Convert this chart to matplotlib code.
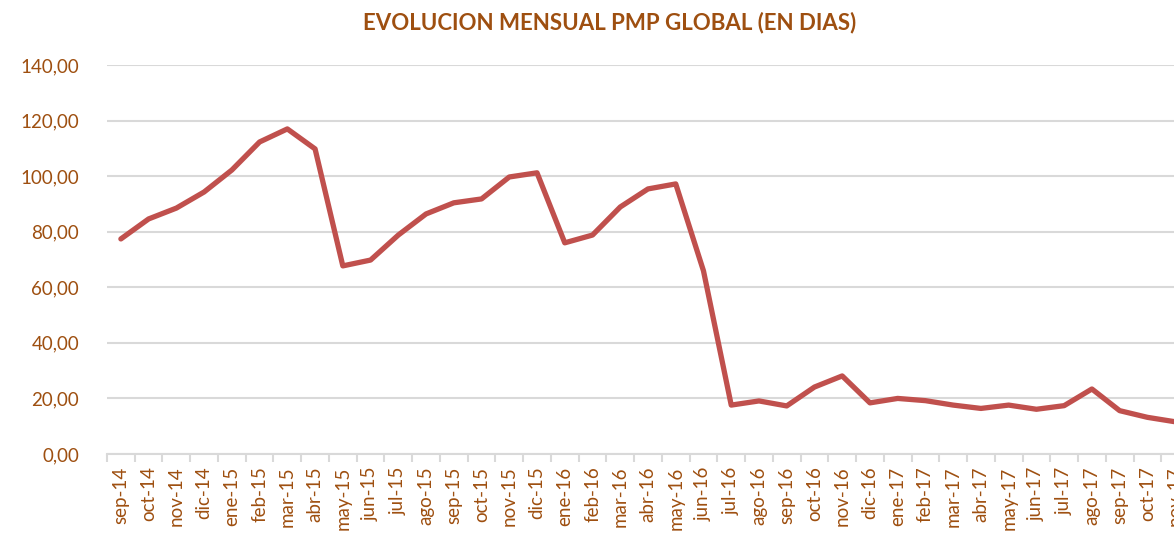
import numpy as np
import matplotlib.pyplot as plt

meses = ['sep-14', 'oct-14', 'nov-14', 'dic-14', 'ene-15', 'feb-15', 'mar-15', 'abr-15',
         'may-15', 'jun-15', 'jul-15', 'ago-15', 'sep-15', 'oct-15', 'nov-15', 'dic-15',
         'ene-16', 'feb-16', 'mar-16', 'abr-16', 'may-16', 'jun-16', 'jul-16', 'ago-16',
         'sep-16', 'oct-16', 'nov-16', 'dic-16', 'ene-17', 'feb-17', 'mar-17', 'abr-17',
         'may-17', 'jun-17', 'jul-17', 'ago-17', 'sep-17', 'oct-17', 'nov-17']
pmp = [77.4, 84.6, 88.5, 94.3, 102.2, 112.3, 117.0, 109.8,
       67.7, 69.8, 78.8, 86.4, 90.4, 91.8, 99.7, 101.2,
       76.0, 78.8, 88.9, 95.4, 97.2, 65.9, 17.6, 19.1,
       17.3, 24.1, 28.1, 18.4, 20.0, 19.2, 17.6, 16.4,
       17.6, 16.1, 17.4, 23.4, 15.6, 13.2, 11.6]
yticks = [0, 20, 40, 60, 80, 100, 120, 140]

plt.rcParams['font.family'] = ['Lato', 'DejaVu Sans']
txt_color = '#9E4F10'
grid_color = '#D9D9D9'

fig = plt.figure(figsize=(11.74, 5.36), dpi=100)
# chart area continues past the right edge of the picture, as in the original
ax = fig.add_axes([107 / 1174, 82 / 536, 1082 / 1174, 389 / 536])

x = np.arange(len(meses))
ax.plot(x, pmp, color='#C0504D', linewidth=3.8, solid_joinstyle='round', solid_capstyle='round')

ax.set_xlim(-0.5, len(meses) - 0.5)
ax.set_ylim(0, 140)
ax.set_yticks(yticks)
ax.set_yticklabels([f'{v:.2f}'.replace('.', ',') for v in yticks])
ax.yaxis.grid(True, color=grid_color, linewidth=1.5)
ax.set_axisbelow(True)

ax.set_xticks(x)
ax.set_xticklabels(meses, rotation=90, va='top', ha='center')
ax.set_xticks(np.arange(-0.5, len(meses)), minor=True)
ax.tick_params(axis='x', which='major', length=0, pad=9, labelsize=13.5, labelcolor=txt_color)
ax.tick_params(axis='x', which='minor', length=6, color=grid_color, width=1.5)
ax.tick_params(axis='y', length=0, pad=20, labelsize=13.5, labelcolor=txt_color)

for s in ['top', 'right', 'left']:
    ax.spines[s].set_visible(False)
ax.spines['bottom'].set_color(grid_color)
ax.spines['bottom'].set_linewidth(1.5)

fig.text(610 / 1174, 1 - 23 / 536, 'EVOLUCION MENSUAL PMP GLOBAL (EN DIAS)', ha='center', va='center',
         fontsize=16, fontweight='bold', color=txt_color)

fig.savefig('out.png', dpi=100)
